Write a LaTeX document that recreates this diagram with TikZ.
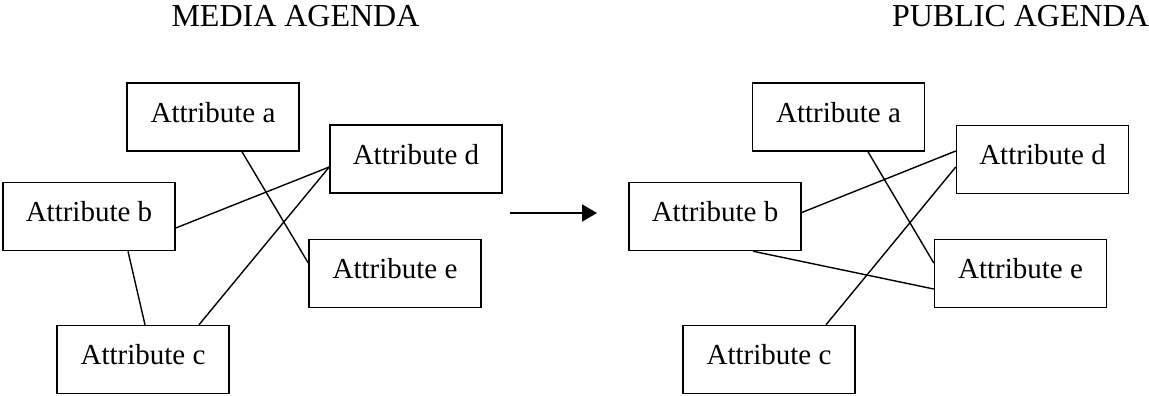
\documentclass[tikz,border=0pt]{standalone}
\usepackage{fontspec}
\setmainfont{Liberation Serif}
\usetikzlibrary{arrows.meta,calc}
\begin{document}
\begin{tikzpicture}[x=1pt,y=-1pt,
  attr/.style={draw,line width=1.5pt,minimum width=172pt,minimum height=68pt,
    inner sep=0pt,text height=19pt,text depth=9pt,
    font=\fontsize{29}{34}\selectfont},
  title/.style={anchor=base,inner sep=0pt,font=\fontsize{32}{38}\selectfont},
  link/.style={line width=1.4pt}]
\useasboundingbox (0,0) rectangle (1149,396);
% titles
\node[title] (tl) at (295.5,27) {MEDIA AGENDA};
\node[title] (tr) at (1020.5,27) {PUBLIC AGENDA};
% left
\node[attr] (La) at (213,117) {Attribute a};
\node[attr] (Ld) at (416,159) {Attribute d};
\node[attr] (Lb) at (89,216.5) {Attribute b};
\node[attr] (Le) at (395,273.5) {Attribute e};
\node[attr] (Lc) at (143,359.5) {Attribute c};
% right
\node[attr] (Ra) at (838.5,117) {Attribute a};
\node[attr] (Rd) at (1042.5,159.5) {Attribute d};
\node[attr] (Rb) at (715,216.5) {Attribute b};
\node[attr] (Re) at (1020.5,273.5) {Attribute e};
\node[attr] (Rc) at (769,359.5) {Attribute c};
% left links
\draw[link] ($(La.south)+(29,0)$) -- ($(Le.west)+(0,-10.5)$);
\draw[link] ($(Lb.east)+(0,11.5)$) -- ($(Ld.west)+(0,8)$);
\draw[link] ($(Lc.north)+(56,0)$) -- ($(Ld.west)+(0,8)$);
\draw[link] ($(Lb.south)+(39,0)$) -- ($(Lc.north)+(2,0)$);
% right links
\draw[link] ($(Ra.south)+(29.5,0)$) -- ($(Re.west)+(0,-10.5)$);
\draw[link] ($(Rb.east)+(0,-4)$) -- ($(Rd.west)+(0,-8.5)$);
\draw[link] ($(Rc.north)+(57,0)$) -- ($(Rd.west)+(0,7.5)$);
\draw[link] ($(Rb.south)+(38,0)$) -- ($(Re.west)+(0,15.5)$);
% arrow
\coordinate (as) at (510,213);
\coordinate (ae) at (597,213);
\draw[line width=1.8pt,-{Triangle[length=15pt,width=17pt]}] (as) -- (ae);
\end{tikzpicture}
\end{document}
